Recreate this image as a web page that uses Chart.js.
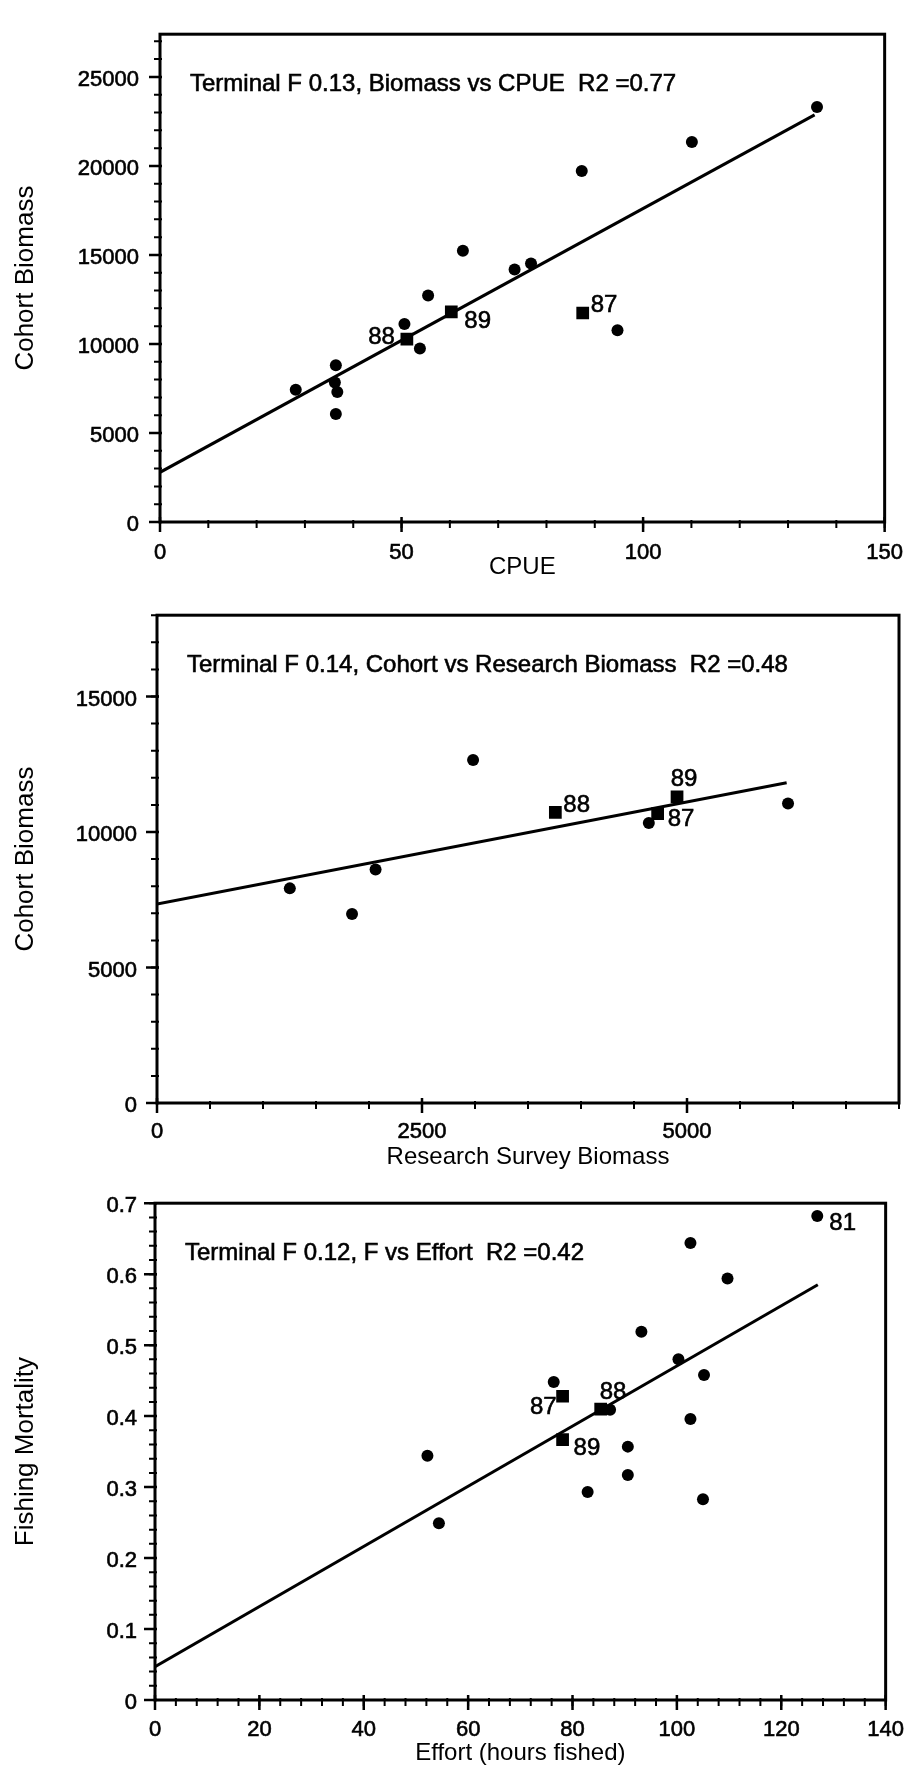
<!DOCTYPE html>
<html>
<head>
<meta charset="utf-8">
<title>Cohort biomass and fishing mortality regressions</title>
<script src="https://cdn.jsdelivr.net/npm/chart.js@4/dist/chart.umd.min.js"></script>
<style>
  html, body { margin: 0; padding: 0; background: #fff; }
  #page { position: relative; width: 921px; height: 1777px; overflow: hidden; }
  #page canvas { position: absolute; left: 0; }
</style>
</head>
<body>
<div id="page">
  <canvas id="cpueChart" width="921" height="582" style="top:0px"></canvas>
  <canvas id="surveyChart" width="921" height="590" style="top:582px"></canvas>
  <canvas id="effortChart" width="921" height="605" style="top:1172px"></canvas>
</div>
<script>
// Cohort biomass vs CPUE
const cpueX       = [28.1, 36.2, 36.4, 36.7, 36.4, 50.6, 53.8, 55.5, 62.7, 73.4, 76.8, 87.3, 94.7, 110.1, 136.0];
const cpueBiomass = [7430, 7840, 8810, 7300, 6060, 11120, 9740, 12720, 15240, 14180, 14520, 19720, 10770, 21340, 23310];
const cpueRecentX       = [87.5, 51.1, 60.3];
const cpueRecentBiomass = [11740, 10270, 11800];
const cpueRecentYears   = ['87', '88', '89'];
const cpueFitX = [0, 135.5];
const cpueFitY = [2790, 22870];
const cpueXTicks = [0, 50, 100, 150];
const cpueYTicks = [0, 5000, 10000, 15000, 20000, 25000];

// Cohort biomass vs research survey biomass
const surveyX       = [1253, 1840, 2062, 2982, 4640, 5953];
const surveyBiomass = [7920, 6970, 8620, 12660, 10330, 11050];
const surveyRecentX       = [4723, 3758, 4906];
const surveyRecentBiomass = [10680, 10720, 11300];
const surveyRecentYears   = ['87', '88', '89'];
const surveyFitX = [0, 5940];
const surveyFitY = [7340, 11820];
const surveyXTicks = [0, 2500, 5000];
const surveyYTicks = [0, 5000, 10000, 15000];

// Fishing mortality vs effort
const effortX = [52.2, 54.4, 76.4, 82.9, 87.2, 90.6, 90.6, 93.2, 100.3, 102.6, 102.6, 105.2, 105.0, 109.7, 126.9];
const effortF = [0.344, 0.249, 0.448, 0.293, 0.409, 0.357, 0.317, 0.519, 0.480, 0.396, 0.644, 0.458, 0.283, 0.594, 0.682];
const effortYears = ['', '', '', '', '', '', '', '', '', '', '', '', '', '', '81'];
const effortRecentX = [78.1, 85.4, 78.1];
const effortRecentF = [0.428, 0.410, 0.367];
const effortRecentYears = ['87', '88', '89'];
const effortFitX = [0, 127];
const effortFitY = [0.047, 0.585];
const effortXTicks = [0, 20, 40, 60, 80, 100, 120, 140];
const effortYTicks = [0, 0.1, 0.2, 0.3, 0.4, 0.5, 0.6, 0.7];

const FONT = '"Liberation Sans", Arial, Helvetica, sans-serif';
Chart.defaults.font.family = FONT;
Chart.defaults.color = '#000';

const zip = (xs, ys) => xs.map((x, i) => ({ x: x, y: ys[i] }));
const fmt = v => String(+v.toFixed(3));

// frame, major/minor tick marks, panel caption and point tags
const panelDecor = {
  id: 'panelDecor',
  afterDatasetsDraw(chart, args, opts) {
    const { ctx, chartArea: a, scales: { x, y } } = chart;
    ctx.save();
    ctx.strokeStyle = '#000';
    ctx.lineCap = 'butt';

    ctx.lineWidth = 2;
    ctx.beginPath();
    let n = Math.round((x.max - x.min) / opts.xMinor);
    for (let i = 0; i <= n; i++) {
      const px = x.getPixelForValue(x.min + i * opts.xMinor);
      ctx.moveTo(px, a.bottom - 2);
      ctx.lineTo(px, a.bottom + 6);
    }
    n = Math.round((y.max - y.min) / opts.yMinor);
    for (let i = 0; i <= n; i++) {
      const py = y.getPixelForValue(y.min + i * opts.yMinor);
      ctx.moveTo(a.left - 6, py);
      ctx.lineTo(a.left + 2, py);
    }
    ctx.stroke();

    ctx.lineWidth = 2.5;
    ctx.beginPath();
    x.ticks.forEach(t => {
      const px = x.getPixelForValue(t.value);
      ctx.moveTo(px, a.bottom - 5);
      ctx.lineTo(px, a.bottom + 10);
    });
    y.ticks.forEach(t => {
      const py = y.getPixelForValue(t.value);
      ctx.moveTo(a.left - 11, py);
      ctx.lineTo(a.left + 2, py);
    });
    ctx.stroke();

    ctx.lineWidth = 3;
    ctx.strokeRect(a.left, a.top, a.right - a.left, a.bottom - a.top);

    // slightly heavy text, like the ink of the printed figure
    const ink = (s, px, py) => { ctx.fillText(s, px, py); ctx.strokeText(s, px, py); };
    ctx.fillStyle = '#000';
    ctx.lineWidth = 0.6;
    ctx.font = '24px ' + FONT;
    ctx.textAlign = 'left';
    ctx.textBaseline = 'alphabetic';
    ink(opts.caption, a.left + 30, a.top + 57);

    ctx.textBaseline = 'middle';
    chart.data.datasets.forEach((ds, di) => {
      if (!ds.tags) return;
      const meta = chart.getDatasetMeta(di);
      ds.tags.forEach((tag, i) => {
        if (!tag) return;
        const p = meta.data[i];
        const s = ds.tagPlace[i];
        ctx.textAlign = s[2];
        ink(tag, p.x + s[0], p.y + s[1]);
      });
    });
    ctx.restore();
  }
};

function makePanel(id, cfg) {
  const canvas = document.getElementById(id);
  const H = canvas.height;
  const scale = (ticks, max, pad, shift, title, titleSize, titlePad) => ({
    type: 'linear',
    min: 0,
    max: max,
    afterBuildTicks: s => { s.ticks = ticks.map(v => ({ value: v })); },
    ticks: {
      padding: pad, labelOffset: shift, font: { size: 22 }, color: '#000', callback: fmt,
      maxRotation: 0, autoSkip: false, textStrokeColor: '#000', textStrokeWidth: 0.6
    },
    grid: { display: false, drawTicks: false },
    border: { display: false },
    title: { display: true, text: title, font: { size: titleSize }, color: '#000', padding: titlePad }
  });
  const xs = scale(cfg.xTicks, cfg.xMax, cfg.xPad, 0, cfg.xTitle, 24, { top: 0, bottom: cfg.xTitlePad });
  xs.afterFit = s => { s.height = H - cfg.area.bottom; };
  const ys = scale(cfg.yTicks, cfg.yMax, cfg.yPad, 3, cfg.yTitle, 26, { top: 10, bottom: 0 });
  ys.afterFit = s => { s.width = cfg.area.left; };

  return new Chart(canvas, {
    type: 'scatter',
    data: {
      datasets: [
        {
          data: zip(cfg.fitX, cfg.fitY),
          showLine: true, borderColor: '#000', borderWidth: 3, pointRadius: 0
        },
        {
          data: zip(cfg.x, cfg.y),
          pointStyle: 'circle', pointRadius: 6, borderWidth: 0,
          backgroundColor: '#000', borderColor: '#000',
          tags: cfg.tags, tagPlace: cfg.tagPlace
        },
        {
          data: zip(cfg.recentX, cfg.recentY),
          pointStyle: 'rect', pointRadius: 9, borderWidth: 0,
          backgroundColor: '#000', borderColor: '#000',
          tags: cfg.recentTags, tagPlace: cfg.recentPlace
        }
      ]
    },
    options: {
      responsive: false,
      animation: false,
      devicePixelRatio: 1,
      layout: { padding: { top: cfg.area.top, right: canvas.width - cfg.area.right, left: 0, bottom: 0 } },
      plugins: {
        legend: { display: false },
        tooltip: { enabled: false },
        panelDecor: { caption: cfg.caption, xMinor: cfg.xMinor, yMinor: cfg.yMinor }
      },
      scales: { x: xs, y: ys }
    },
    plugins: [panelDecor]
  });
}

makePanel('cpueChart', {
  area: { left: 160, right: 899, top: 8, bottom: 522 },
  x: cpueX, y: cpueBiomass,
  recentX: cpueRecentX, recentY: cpueRecentBiomass, recentTags: cpueRecentYears,
  recentPlace: [[8, -8, 'left'], [-12, -2, 'right'], [13, 9, 'left']],
  fitX: cpueFitX, fitY: cpueFitY,
  xTicks: cpueXTicks, yTicks: cpueYTicks, xMax: 150, yMax: 27400,
  xMinor: 10, yMinor: 1000, xPad: 18, yPad: 21, xTitlePad: 0,
  xTitle: 'CPUE', yTitle: 'Cohort Biomass',
  caption: 'Terminal F 0.13, Biomass vs CPUE  R2 =0.77'
});

makePanel('surveyChart', {
  area: { left: 157, right: 899, top: 7, bottom: 521 },
  x: surveyX, y: surveyBiomass,
  recentX: surveyRecentX, recentY: surveyRecentBiomass, recentTags: surveyRecentYears,
  recentPlace: [[10, 6, 'left'], [8, -7, 'left'], [7, -17, 'center']],
  fitX: surveyFitX, fitY: surveyFitY,
  xTicks: surveyXTicks, yTicks: surveyYTicks, xMax: 7000, yMax: 18000,
  xMinor: 500, yMinor: 1000, xPad: 16, yPad: 20, xTitlePad: 0,
  xTitle: 'Research Survey Biomass', yTitle: 'Cohort Biomass',
  caption: 'Terminal F 0.14, Cohort vs Research Biomass  R2 =0.48'
});

makePanel('effortChart', {
  area: { left: 155, right: 896, top: 14, bottom: 528 },
  x: effortX, y: effortF, tags: effortYears,
  tagPlace: effortYears.map(() => [12, 7, 'left']),
  recentX: effortRecentX, recentY: effortRecentF, recentTags: effortRecentYears,
  recentPlace: [[-6, 11, 'right'], [-1, -17, 'left'], [11, 9, 'left']],
  fitX: effortFitX, fitY: effortFitY,
  xTicks: effortXTicks, yTicks: effortYTicks, xMax: 140, yMax: 0.7,
  xMinor: 4, yMinor: 0.02, xPad: 17, yPad: 18, xTitlePad: 9,
  xTitle: 'Effort (hours fished)', yTitle: 'Fishing Mortality',
  caption: 'Terminal F 0.12, F vs Effort  R2 =0.42'
});
</script>
</body>
</html>
